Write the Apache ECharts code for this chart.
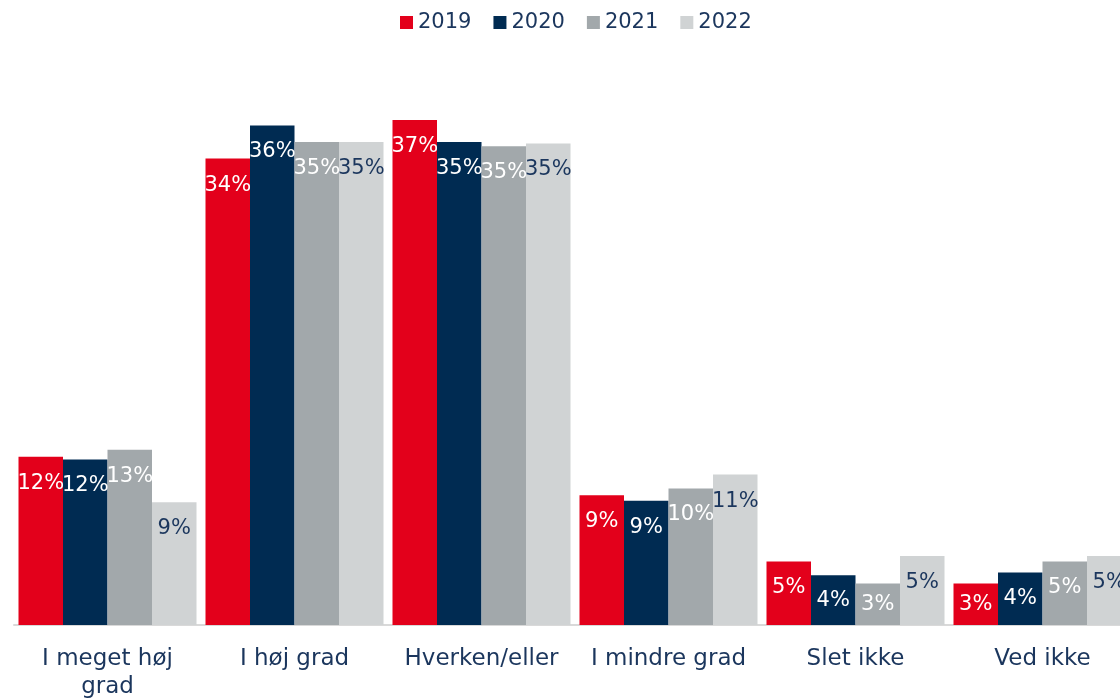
<!DOCTYPE html>
<html>
<head>
<meta charset="utf-8">
<script src="https://cdn.jsdelivr.net/npm/echarts@6/dist/echarts.min.js"></script>
<style>
  html, body { margin: 0; padding: 0; background: #fff; }
  #mChart { width: 1120px; height: 698px; }
</style>
</head>
<body>
<div id="mChart"></div>
<script>
// kategorier
var categories = ['I meget høj\ngrad', 'I høj grad', 'Hverken/eller', 'I mindre grad', 'Slet ikke', 'Ved ikke'];
// år
var years = ['2019', '2020', '2021', '2022'];
// andele i procent pr. år
var values2019 = [12.2, 33.8, 36.6, 9.4, 4.6, 3.0];
var values2020 = [12.0, 36.2, 35.0, 9.0, 3.6, 3.8];
var values2021 = [12.7, 35.0, 34.7, 9.9, 3.0, 4.6];
var values2022 = [8.9, 35.0, 34.9, 10.9, 5.0, 5.0];

var colors = ['#e3001b', '#002b52', '#a2a8ab', '#d0d3d4'];
var labelColors = ['#ffffff', '#ffffff', '#ffffff', '#1b365d'];
var font = '"DejaVu Sans", sans-serif';

function makeSeries(name, vals, i) {
  return {
    name: name,
    type: 'bar',
    barWidth: 44.5,
    barGap: '0%',
    itemStyle: { color: colors[i] },
    label: {
      show: true,
      position: 'insideTop',
      distance: 16,
      color: labelColors[i],
      fontFamily: font,
      fontSize: 21,
      formatter: function (p) { return Math.round(p.value) + '%'; }
    },
    data: vals.map(function (v) {
      // korte søjler: etiketten midt i søjlen
      return v < 4.5 ? { value: v, label: { position: 'inside' } } : v;
    })
  };
}

var myChart = echarts.init(document.getElementById('mChart'));
myChart.setOption({
  animation: false,
  color: colors,
  legend: {
    left: 395,
    top: 7,
    itemWidth: 13,
    itemHeight: 13,
    itemGap: 22,
    icon: 'rect',
    textStyle: { color: '#1b365d', fontSize: 21, fontFamily: font },
    data: years
  },
  grid: { left: 14, right: -16, top: 73, bottom: 73, outerBoundsMode: 'none' },
  xAxis: {
    type: 'category',
    data: categories,
    axisLine: { lineStyle: { color: '#d9d9d9', width: 2 } },
    axisTick: { show: false },
    axisLabel: {
      color: '#1b365d',
      fontSize: 23,
      fontFamily: font,
      lineHeight: 28,
      margin: 20,
      interval: 0
    }
  },
  yAxis: {
    type: 'value',
    min: 0,
    max: 40,
    show: false
  },
  series: [
    makeSeries(years[0], values2019, 0),
    makeSeries(years[1], values2020, 1),
    makeSeries(years[2], values2021, 2),
    makeSeries(years[3], values2022, 3)
  ]
});
</script>
</body>
</html>
